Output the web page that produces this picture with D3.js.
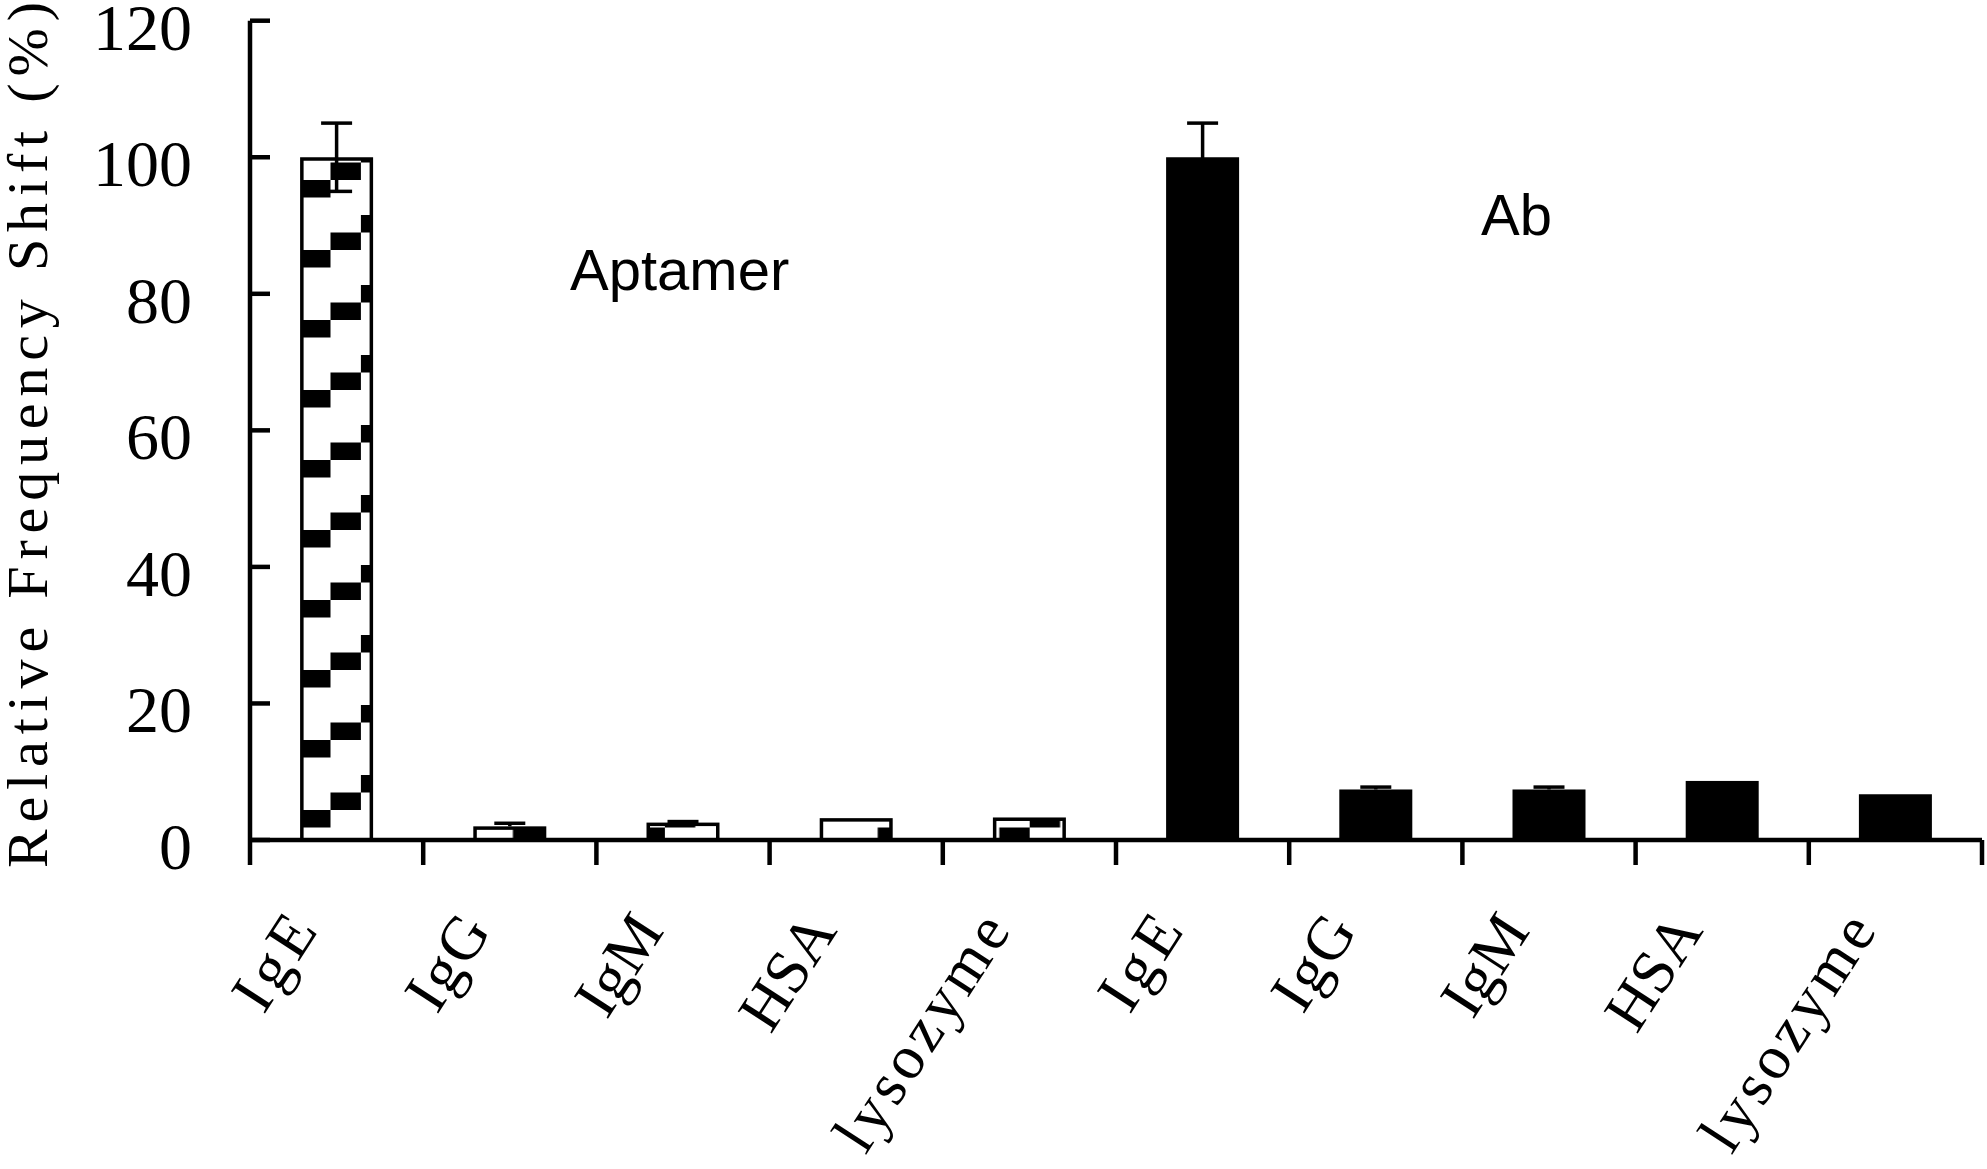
<!DOCTYPE html>
<html>
<head>
<meta charset="utf-8">
<script src="https://cdn.jsdelivr.net/npm/d3@7"></script>
<style>
  html, body { margin: 0; padding: 0; background: #fff; }
  svg { display: block; }
</style>
</head>
<body>
<div id="chart"></div>
<script>
// Datos
const categories = ["IgE", "IgG", "IgM", "HSA", "lysozyme"]
const groups = ["Aptamer", "Ab"]
const aptamerValues = [100, 2.0, 2.55, 3.2, 3.3]
const aptamerErrUp = [5, 0.45, 0.15, 0, 0]
const aptamerErrDown = [5, 0, 0, 0, 0]
const abValues = [100, 7.4, 7.4, 8.65, 6.7]
const abErrUp = [5, 0.35, 0.35, 0, 0]
const abErrDown = [5, 0, 0, 0, 0]
const yTicks = [0, 20, 40, 60, 80, 100, 120]

const width = 1987, height = 1169

// Tabla de barras (10 posiciones en el eje x)
const bars = []
categories.forEach((c, i) => bars.push({ key: "apt-" + i, label: c, value: aptamerValues[i], up: aptamerErrUp[i], down: aptamerErrDown[i], group: groups[0] }))
categories.forEach((c, i) => bars.push({ key: "ab-" + i, label: c, value: abValues[i], up: abErrUp[i], down: abErrDown[i], group: groups[1] }))

const svg = d3.select("#chart")
    .append("svg")
    .attr("width", width)
    .attr("height", height)

// Escalas
const x = d3.scaleBand()
    .domain(bars.map(d => d.key))
    .range([250, 1982])
    .padding(0)

const y = d3.scaleLinear()
    .domain([0, 120])
    .range([840, 20.7])

const barW = 73
const barX = d => x(d.key) + x.bandwidth() / 2 - barW / 2

// Patrón escalonado para las barras del aptámero
const colW = 30.4, stepH = 17.5
const defs = svg.append("defs")
const pat = defs.append("pattern")
    .attr("id", "stairs")
    .attr("patternUnits", "userSpaceOnUse")
    .attr("x", barX(bars[0]))
    .attr("y", y(0) - 30)
    .attr("width", colW * 4)
    .attr("height", stepH * 4)
pat.append("rect").attr("width", colW * 4).attr("height", stepH * 4).attr("fill", "#fff")
;[0, 3, 2, 1].forEach((s, k) => {
    pat.append("rect")
        .attr("x", k * colW)
        .attr("y", s * stepH)
        .attr("width", colW)
        .attr("height", stepH)
        .attr("fill", "#000")
})

// Barras
const g = svg.append("g")
g.selectAll("rect.bar")
    .data(bars)
    .join("rect")
    .attr("class", "bar")
    .attr("x", d => barX(d) + (d.group === "Aptamer" ? 1.75 : 0))
    .attr("width", d => d.group === "Aptamer" ? barW - 3.5 : barW)
    .attr("y", d => y(d.value) + (d.group === "Aptamer" ? 1.75 : 0))
    .attr("height", d => y(0) - y(d.value) - (d.group === "Aptamer" ? 1.75 : 0))
    .attr("fill", d => d.group === "Aptamer" ? "url(#stairs)" : "#000")
    .attr("stroke", d => d.group === "Aptamer" ? "#000" : "none")
    .attr("stroke-width", 3.5)

// Barras de error
const errs = bars.filter(d => d.up > 0 || d.down > 0)
const eg = svg.append("g").attr("stroke", "#000").attr("stroke-width", 3.5)
errs.forEach(d => {
    const cx = x(d.key) + x.bandwidth() / 2
    const top = y(d.value + d.up), bot = y(d.value - d.down)
    eg.append("line").attr("x1", cx).attr("x2", cx).attr("y1", top).attr("y2", bot)
    if (d.up > 0) eg.append("line").attr("x1", cx - 15.5).attr("x2", cx + 15.5).attr("y1", top).attr("y2", top)
    if (d.down > 0) eg.append("line").attr("x1", cx - 15.5).attr("x2", cx + 15.5).attr("y1", bot).attr("y2", bot)
})

// Ejes
const axisColor = "#000"
// eje Y con marcas hacia dentro
svg.append("line")
    .attr("x1", 250).attr("x2", 250)
    .attr("y1", y(120)).attr("y2", y(0))
    .attr("stroke", axisColor).attr("stroke-width", 4.5)
svg.append("g")
    .selectAll("line")
    .data(yTicks)
    .join("line")
    .attr("x1", 250).attr("x2", 270)
    .attr("y1", d => y(d)).attr("y2", d => y(d))
    .attr("stroke", axisColor).attr("stroke-width", 4.5)

svg.append("g")
    .selectAll("text")
    .data(yTicks)
    .join("text")
    .attr("x", 192)
    .attr("y", d => y(d) + 29)
    .attr("text-anchor", "end")
    .attr("font-family", "'Liberation Serif', 'DejaVu Serif', serif")
    .attr("font-size", 66)
    .attr("fill", "#000")
    .text(d => d)

// eje X con marcas hacia fuera en los límites de cada categoría
svg.append("line")
    .attr("x1", 250).attr("x2", 1982)
    .attr("y1", y(0)).attr("y2", y(0))
    .attr("stroke", axisColor).attr("stroke-width", 4.5)
const xEdges = bars.map(d => x(d.key)).concat([x.range()[1]])
svg.append("g")
    .selectAll("line")
    .data(xEdges)
    .join("line")
    .attr("x1", d => d).attr("x2", d => d)
    .attr("y1", y(0)).attr("y2", y(0) + 25)
    .attr("stroke", axisColor).attr("stroke-width", 4.5)

// Etiquetas del eje X (rotadas)
const charAdv = 33.5
svg.append("g")
    .selectAll("text")
    .data(bars)
    .join("text")
    .attr("transform", d => `translate(${x(d.key) + x.bandwidth() / 2 - 18},931) rotate(-57)`)
    .attr("text-anchor", "end")
    .attr("font-family", "'Liberation Serif', 'DejaVu Serif', serif")
    .attr("font-size", 62)
    .attr("fill", "#000")
    .text(d => d.label)
    .each(function(d) {
        const target = d.label.length * charAdv
        if (this.getComputedTextLength() < target) {
            d3.select(this).attr("textLength", target).attr("lengthAdjust", "spacing")
        }
    })

// Título del eje Y
svg.append("text")
    .attr("transform", "translate(47,435) rotate(-90)")
    .attr("text-anchor", "middle")
    .attr("font-family", "'Liberation Serif', 'DejaVu Serif', serif")
    .attr("font-size", 58)
    .attr("fill", "#000")
    .attr("textLength", 866)
    .attr("lengthAdjust", "spacing")
    .text("Relative Frequency Shift (%)")

// Anotaciones de grupo
svg.append("text")
    .attr("x", 570).attr("y", 290)
    .attr("font-family", "'Liberation Sans', Arial, sans-serif")
    .attr("font-size", 58)
    .attr("fill", "#000")
    .text(groups[0])

svg.append("text")
    .attr("x", 1481).attr("y", 235)
    .attr("font-family", "'Liberation Sans', Arial, sans-serif")
    .attr("font-size", 58)
    .attr("fill", "#000")
    .text(groups[1])
</script>
</body>
</html>
